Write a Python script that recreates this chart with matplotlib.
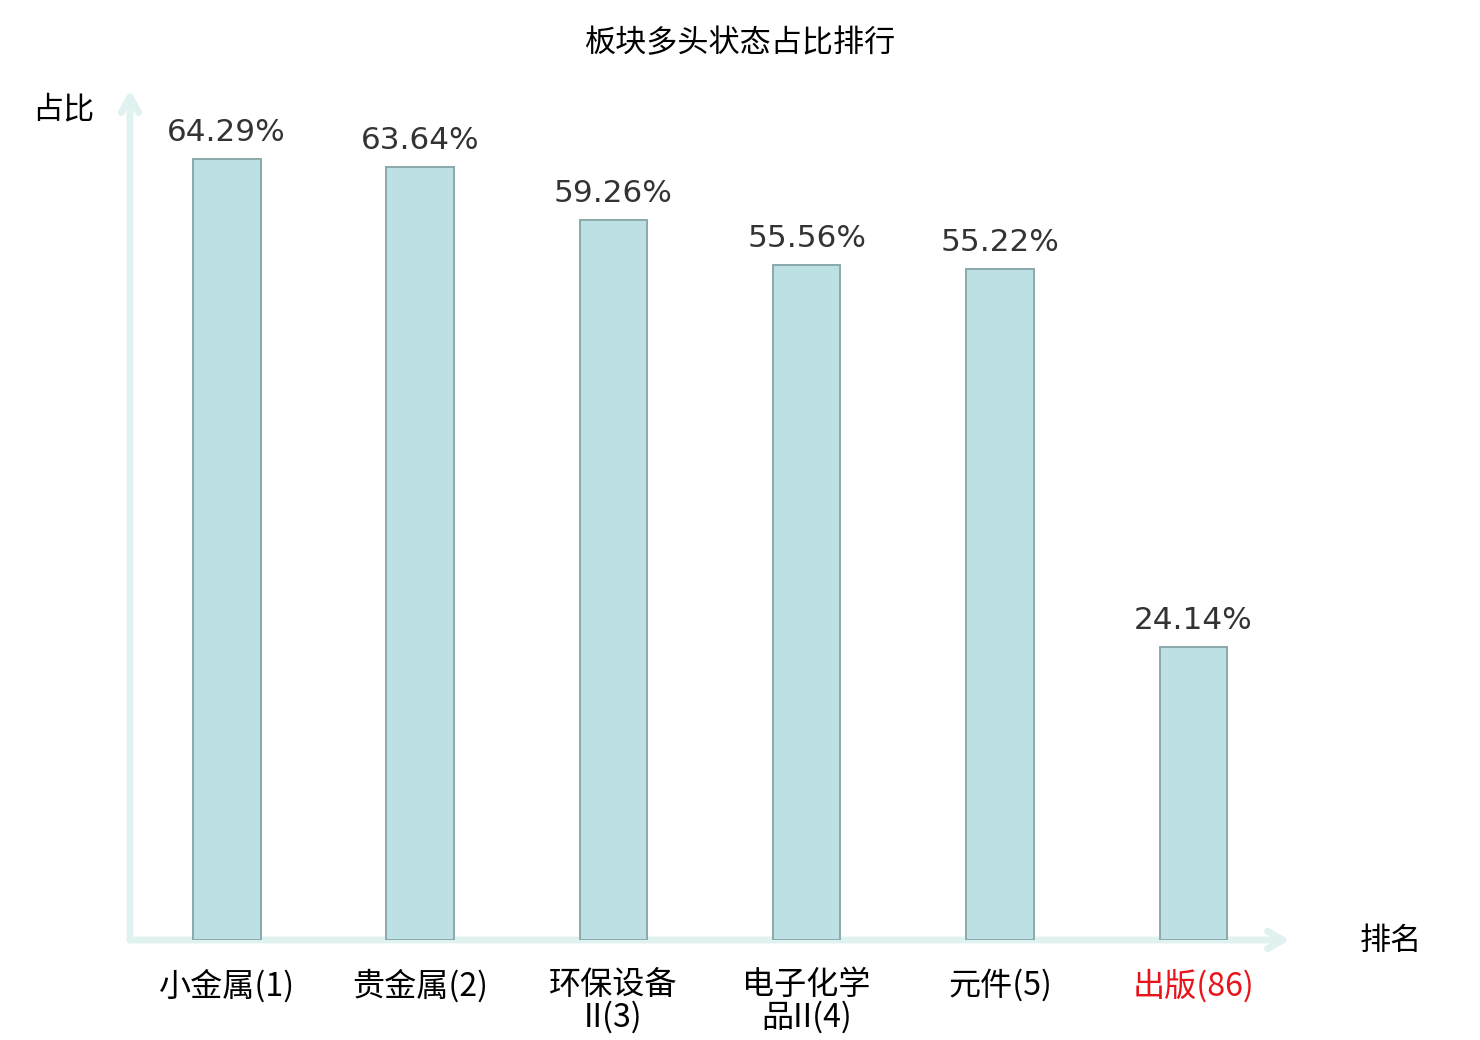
import matplotlib
matplotlib.use("Agg")
import matplotlib.pyplot as plt

plt.rcParams["font.family"] = ["Noto Sans CJK SC", "DejaVu Sans"]

# 数据
categories = ["小金属(1)", "贵金属(2)", "环保设备\nII(3)", "电子化学\n品II(4)", "元件(5)", "出版(86)"]
values = [64.29, 63.64, 59.26, 55.56, 55.22, 24.14]
label_colors = ["black", "black", "black", "black", "black", "#e8141b"]

fig = plt.figure(figsize=(1480 / 140, 1040 / 140), dpi=140)
ax = fig.add_axes([130 / 1480, 100 / 1040, 1160 / 1480, 850 / 1040])

x = list(range(len(categories)))
ax.bar(x, values, width=0.35, color="#bce0e3", edgecolor="#8aa9ab", linewidth=1.0, zorder=3)

for xi, v in zip(x, values):
    ax.text(xi, v + 1.0, f"{v:.2f}%", ha="center", va="bottom", fontsize=16,
            color="#333333", family="DejaVu Sans")

ax.set_xlim(-0.5, 5.5)
ax.set_ylim(0, 70)
for s in ax.spines.values():
    s.set_visible(False)
ax.set_yticks([])
ax.set_xticks(x)
ax.set_xticklabels(categories, fontsize=16.5, linespacing=1.0)
ax.tick_params(axis="x", length=0, pad=15)
for lbl, c in zip(ax.get_xticklabels(), label_colors):
    lbl.set_color(c)
    lbl.set_va("top")

axis_color = "#dff2ef"
ax.annotate("", xy=(1.0, 0), xycoords="axes fraction", xytext=(0, 0),
            arrowprops=dict(arrowstyle="->,head_length=0.8,head_width=0.45", color=axis_color,
                            lw=3.5, shrinkA=0, shrinkB=0), zorder=2)
ax.annotate("", xy=(0, 1.0), xycoords="axes fraction", xytext=(0, 0),
            arrowprops=dict(arrowstyle="->,head_length=0.8,head_width=0.45", color=axis_color,
                            lw=3.5, shrinkA=0, shrinkB=0), zorder=2)

fig.text(63 / 1480, 1 - 110 / 1040, "占比", ha="center", va="center", fontsize=16)
fig.text(1391 / 1480, 1 - 941 / 1040, "排名", ha="center", va="center", fontsize=16)
fig.text(740 / 1480, 1 - 44 / 1040, "板块多头状态占比排行", ha="center", va="center", fontsize=16)

fig.savefig("out.png", dpi=140)
